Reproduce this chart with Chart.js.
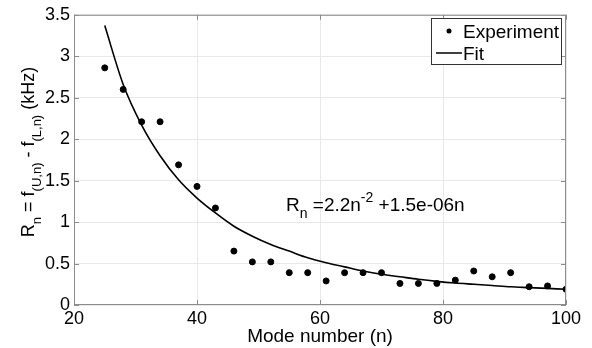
<!DOCTYPE html>
<html>
<head>
<meta charset="utf-8">
<script src="https://cdn.jsdelivr.net/npm/chart.js@4/dist/chart.umd.min.js"></script>
<style>
  html, body { margin: 0; padding: 0; background: #fff; }
  #wrap { width: 592px; height: 348px; }
</style>
</head>
<body>
<div id="wrap"><canvas id="myChart"></canvas></div>
<script>
// mode numbers and measured splitting (kHz)
var expN = [25, 28, 31, 34, 37, 40, 43, 46, 49, 52, 55, 58, 61, 64, 67, 70, 73, 76, 79, 82, 85, 88, 91, 94, 97, 100];
var expR = [2.86, 2.60, 2.21, 2.21, 1.69, 1.43, 1.17, 0.65, 0.52, 0.52, 0.39, 0.39, 0.29, 0.39, 0.39, 0.39, 0.26, 0.26, 0.26, 0.30, 0.41, 0.34, 0.39, 0.22, 0.23, 0.19];

// fit curve
var fitN = [25, 28, 31, 34, 37, 40, 43, 46, 49, 52, 55, 58, 61, 64, 67, 70, 73, 76, 79, 82, 85, 88, 91, 94, 97, 100];
var fitR = [3.37, 2.66, 2.17, 1.80, 1.51, 1.29, 1.11, 0.95, 0.83, 0.73, 0.65, 0.57, 0.51, 0.46, 0.41, 0.37, 0.34, 0.31, 0.285, 0.265, 0.25, 0.235, 0.22, 0.21, 0.20, 0.19];

var xTicks = [20, 40, 60, 80, 100];
var yTicks = [0, 0.5, 1, 1.5, 2, 2.5, 3, 3.5];

var FONT = '"Liberation Sans", Arial, Helvetica, sans-serif';

function pts(xs, ys) {
  return xs.map(function (x, i) { return { x: x, y: ys[i] }; });
}

// draw a run of [text, kind] pieces, kind: 0 normal, 1 subscript, 2 superscript
function drawRich(ctx, pieces, x, y, big, small) {
  pieces.forEach(function (p) {
    var size = p[1] === 0 ? big : small;
    var dy = p[1] === 1 ? 7 : (p[1] === 2 ? -9 : 0);
    ctx.font = size + 'px ' + FONT;
    ctx.fillText(p[0], x, y + dy);
    x += ctx.measureText(p[0]).width;
  });
  return x;
}
function richWidth(ctx, pieces, big, small) {
  var w = 0;
  pieces.forEach(function (p) {
    ctx.font = (p[1] === 0 ? big : small) + 'px ' + FONT;
    w += ctx.measureText(p[0]).width;
  });
  return w;
}

var decorations = {
  id: 'decorations',
  afterDraw: function (chart) {
    var ctx = chart.ctx;
    var a = chart.chartArea;
    var xs = chart.scales.x, ys = chart.scales.y;
    ctx.save();

    // axes box and inward ticks
    ctx.strokeStyle = '#8c8c8c';
    ctx.lineWidth = 1;
    ctx.strokeRect(a.left + 0.5, a.top + 0.5, a.right - a.left - 1, a.bottom - a.top - 1);
    ctx.beginPath();
    xTicks.forEach(function (v) {
      var px = Math.round(xs.getPixelForValue(v)) + 0.5;
      ctx.moveTo(px, a.bottom); ctx.lineTo(px, a.bottom - 5);
      ctx.moveTo(px, a.top); ctx.lineTo(px, a.top + 5);
    });
    yTicks.forEach(function (v) {
      var py = Math.round(ys.getPixelForValue(v)) + 0.5;
      ctx.moveTo(a.left, py); ctx.lineTo(a.left + 5, py);
      ctx.moveTo(a.right, py); ctx.lineTo(a.right - 5, py);
    });
    ctx.stroke();

    ctx.fillStyle = '#000';
    ctx.textBaseline = 'alphabetic';
    ctx.textAlign = 'left';

    // y axis title with subscripts
    var ytitle = [['R', 0], ['n', 1], [' = f', 0], ['(U,n)', 1], [' - f', 0], ['(L,n)', 1], [' (kHz)', 0]];
    var w = richWidth(ctx, ytitle, 18, 13);
    ctx.save();
    ctx.translate(34, 152 + w / 2);
    ctx.rotate(-Math.PI / 2);
    drawRich(ctx, ytitle, 0, 0, 18, 13);
    ctx.restore();

    // fit equation
    drawRich(ctx, [['R', 0], ['n', 1], [' =2.2n', 0], ['-2', 2], [' +1.5e-06n', 0]], 286, 211, 19, 14);

    // legend
    ctx.fillStyle = '#fff';
    ctx.fillRect(431, 18, 131, 47);
    ctx.strokeStyle = '#333';
    ctx.lineWidth = 1;
    ctx.strokeRect(431.5, 18.5, 130, 46);
    ctx.fillStyle = '#000';
    ctx.beginPath();
    ctx.arc(449, 31, 2.5, 0, Math.PI * 2);
    ctx.fill();
    ctx.strokeStyle = '#000';
    ctx.lineWidth = 1.5;
    ctx.beginPath();
    ctx.moveTo(436, 53); ctx.lineTo(462, 53);
    ctx.stroke();
    ctx.font = '19px ' + FONT;
    ctx.fillText('Experiment', 463, 38);
    ctx.fillText('Fit', 463, 60);

    ctx.restore();
  }
};

new Chart(document.getElementById('myChart'), {
  type: 'scatter',
  data: {
    datasets: [{
      label: 'Experiment',
      data: pts(expN, expR),
      pointStyle: 'circle',
      pointRadius: 3,
      backgroundColor: '#000',
      borderColor: '#000',
      showLine: false
    }, {
      label: 'Fit',
      data: pts(fitN, fitR),
      showLine: true,
      borderColor: '#000',
      borderWidth: 1.6,
      pointRadius: 0,
      cubicInterpolationMode: 'monotone',
      fill: false
    }]
  },
  options: {
    responsive: true,
    maintainAspectRatio: false,
    animation: false,
    layout: { padding: { top: 14, right: 26, left: 0, bottom: 0 } },
    plugins: {
      legend: { display: false },
      tooltip: { enabled: false }
    },
    scales: {
      x: {
        type: 'linear',
        min: 20, max: 100,
        afterBuildTicks: function (s) { s.ticks = xTicks.map(function (v) { return { value: v }; }); },
        afterFit: function (s) { s.height = 43; },
        grid: { color: '#e8e8e8', drawTicks: false },
        border: { display: false },
        ticks: { color: '#000', padding: 3, font: { family: FONT, size: 18 },
                 callback: function (v) { return String(v); } },
        title: { display: true, text: 'Mode number (n)', color: '#000', padding: { top: 0, bottom: 0 }, font: { family: FONT, size: 19 } }
      },
      y: {
        min: 0, max: 3.5,
        afterBuildTicks: function (s) { s.ticks = yTicks.map(function (v) { return { value: v }; }); },
        afterFit: function (s) { s.width = 74; },
        grid: { color: '#e8e8e8', drawTicks: false },
        border: { display: false },
        ticks: { color: '#000', padding: 4, font: { family: FONT, size: 18 },
                 callback: function (v) { return String(v); } }
      }
    }
  },
  plugins: [decorations]
});
</script>
</body>
</html>
